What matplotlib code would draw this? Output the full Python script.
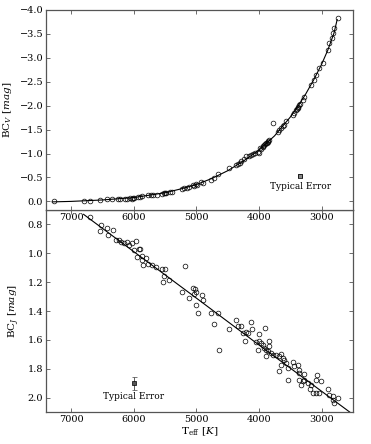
import matplotlib
matplotlib.use("Agg")
import matplotlib.pyplot as plt
from matplotlib.ticker import MultipleLocator

plt.rcParams['font.family'] = ['DejaVu Serif']
plt.rcParams['mathtext.fontset'] = 'dejavuserif'

# ---------------- data: top panel (BC_V) ----------------
top_T = [7270, 6790, 6700, 6540, 6430, 6350, 6250, 6220, 6140, 6100, 6060, 6030, 6005, 5990,
         5925, 5900, 5870, 5765, 5720, 5685, 5632, 5552, 5520, 5499, 5480, 5419, 5380, 5232,
         5200, 5152, 5115, 5045, 5035, 5008, 4990, 4928, 4900, 4768, 4715, 4661, 4475, 4368,
         4341, 4300, 4288, 4235, 4208, 4155, 4120, 4101, 4060, 4021, 3995, 3984, 3960, 3941,
         3930, 3915, 3900, 3888, 3870, 3861, 3850, 3835, 3771, 3701, 3680, 3648, 3621, 3600,
         3568, 3461, 3440, 3408, 3390, 3381, 3370, 3355, 3340, 3301, 3275, 3168, 3115, 3088,
         3035, 2981, 2901, 2875, 2832, 2821, 2795, 2741]
top_BC = [0.00, -0.01, -0.01, -0.03, -0.04, -0.04, -0.06, -0.05, -0.06, -0.05, -0.07, -0.06, -0.08, -0.07,
          -0.10, -0.09, -0.12, -0.14, -0.13, -0.14, -0.14, -0.16, -0.17, -0.17, -0.18, -0.19, -0.20, -0.26,
          -0.27, -0.29, -0.31, -0.35, -0.33, -0.36, -0.34, -0.40, -0.39, -0.45, -0.49, -0.57, -0.70, -0.77,
          -0.78, -0.80, -0.84, -0.89, -0.95, -0.94, -0.97, -1.00, -1.02, -1.04, -1.01, -1.12, -1.10, -1.15,
          -1.14, -1.17, -1.20, -1.22, -1.23, -1.25, -1.27, -1.29, -1.64, -1.46, -1.49, -1.53, -1.57, -1.60,
          -1.67, -1.81, -1.85, -1.91, -1.93, -1.95, -1.98, -2.02, -2.03, -2.12, -2.19, -2.44, -2.54, -2.64,
          -2.78, -2.89, -3.17, -3.31, -3.41, -3.52, -3.62, -3.83]

top_fit_T = [7300, 7000, 6500, 6000, 5500, 5250, 5000, 4750, 4500, 4250, 4000, 3750, 3500, 3375,
             3250, 3125, 3000, 2900, 2800, 2750]
top_fit_BC = [0.01, 0.00, -0.03, -0.08, -0.18, -0.26, -0.35, -0.48, -0.64, -0.84, -1.07, -1.37, -1.76, -1.99,
              -2.25, -2.54, -2.86, -3.16, -3.52, -3.80]

top_err_T = 3340
top_err_BC = -0.54
top_err_xerr = 30
top_err_yerr = 0.04

# ---------------- data: bottom panel (BC_J) ----------------
bot_T = [6699, 6528, 6544, 6421, 6411, 6325, 6288, 6235, 6208, 6155, 6112, 6075, 6032, 5995, 5968,
         5915, 5899, 5941, 5861, 5861, 5851, 5808, 5765, 5701, 5648, 5541, 5525, 5499, 5435, 5515,
         5179, 5221, 5115, 5051, 5019, 5008, 5035, 4901, 4891, 4997, 4971, 4768, 4661, 4715, 4635,
         4485, 4368, 4341, 4288, 4261, 4208, 4219, 4181, 4128, 4112, 4048, 3995, 4021, 3968, 3904,
         4005, 3941, 3915, 3888, 3861, 3845, 3835, 3808, 3888, 3781, 3728, 3675, 3648, 3621, 3595,
         3648, 3675, 3568, 3541, 3541, 3461, 3435, 3381, 3365, 3355, 3355, 3328, 3301, 3275, 3275,
         3221, 3184, 3168, 3141, 3088, 3035, 3077, 3088, 3008, 2901, 2875, 2821, 2795, 2741, 2821]
bot_BC = [0.747, 0.805, 0.846, 0.828, 0.874, 0.840, 0.911, 0.911, 0.923, 0.927, 0.920, 0.944, 0.932, 0.974, 0.916,
          0.969, 0.967, 1.027, 1.020, 1.043, 1.078, 1.031, 1.073, 1.083, 1.097, 1.106, 1.196, 1.110, 1.184, 1.159,
          1.087, 1.270, 1.309, 1.240, 1.250, 1.270, 1.280, 1.291, 1.326, 1.358, 1.413, 1.413, 1.413, 1.490, 1.673,
          1.524, 1.460, 1.501, 1.501, 1.552, 1.545, 1.610, 1.552, 1.478, 1.524, 1.615, 1.606, 1.668, 1.622, 1.517,
          1.557, 1.633, 1.656, 1.668, 1.680, 1.645, 1.610, 1.691, 1.715, 1.703, 1.703, 1.715, 1.696, 1.726, 1.737,
          1.772, 1.819, 1.760, 1.795, 1.876, 1.756, 1.784, 1.777, 1.830, 1.807, 1.876, 1.911, 1.888, 1.876, 1.835,
          1.899, 1.941, 1.911, 1.969, 1.969, 1.969, 1.842, 1.876, 1.888, 1.941, 1.980, 2.015, 2.038, 2.003, 1.992]

bot_fit_T = [6800, 5000, 4000, 2550]
bot_fit_BC = [0.73, 1.31, 1.635, 2.10]

bot_err_T = 6000
bot_err_BC = 1.90
bot_err_yerr = 0.045

x_ticks = [7000, 6000, 5000, 4000, 3000]

# ---------------- figure ----------------
fig = plt.figure(figsize=(3.71, 4.44), dpi=100)
ax1 = fig.add_axes([0.124, 0.527, 0.827, 0.4505])
ax2 = fig.add_axes([0.124, 0.072, 0.827, 0.455])
ax2.patch.set_alpha(0.0)
ax1.set_zorder(3)

spine_col = '#555555'
for ax in (ax1, ax2):
    for s in ax.spines.values():
        s.set_color(spine_col)
        s.set_linewidth(0.9)
    ax.tick_params(direction='in', top=True, right=True, labelsize=7, length=3,
                   width=0.6, color=spine_col, pad=2)
    ax.set_xlim(7400, 2500)
    ax.set_xticks(x_ticks)

# top panel
ax1.plot(top_fit_T, top_fit_BC, color='k', lw=0.8, zorder=2)
ax1.plot(top_T, top_BC, 'o', mfc='none', mec='k', ms=3.4, mew=0.5, zorder=3)
ax1.errorbar([top_err_T], [top_err_BC], xerr=[top_err_xerr], yerr=[top_err_yerr], fmt='s',
             mfc='#888888', mec='k', ms=3.5, mew=0.5, ecolor='k', elinewidth=0.5, capsize=1.2, zorder=4)
ax1.text(top_err_T, -0.31, 'Typical Error', ha='center', va='center', fontsize=6.5)
ax1.set_ylim(0.18, -4.0)
ax1.yaxis.set_major_locator(MultipleLocator(0.5))
ax1.set_ylabel(r'BC$_V$ [$mag$]', fontsize=7.5, labelpad=4)

# bottom panel
ax2.plot(bot_fit_T, bot_fit_BC, color='k', lw=0.8, zorder=2)
ax2.plot(bot_T, bot_BC, 'o', mfc='none', mec='k', ms=3.4, mew=0.5, zorder=3)
ax2.errorbar([bot_err_T], [bot_err_BC], yerr=[bot_err_yerr], fmt='s',
             mfc='#555555', mec='k', ms=3.2, mew=0.5, ecolor='#444444', elinewidth=0.6, capsize=1.8, zorder=4)
ax2.text(bot_err_T, 1.99, 'Typical Error', ha='center', va='center', fontsize=6.5)
ax2.set_ylim(2.1, 0.7)
ax2.yaxis.set_major_locator(MultipleLocator(0.2))
ax2.set_ylabel(r'BC$_J$ [$mag$]', fontsize=7.5, labelpad=4)
ax2.set_xlabel(r'T$_{\rm eff}$ [$K$]', fontsize=7.5, labelpad=1)

fig.savefig('out.png', dpi=100)
